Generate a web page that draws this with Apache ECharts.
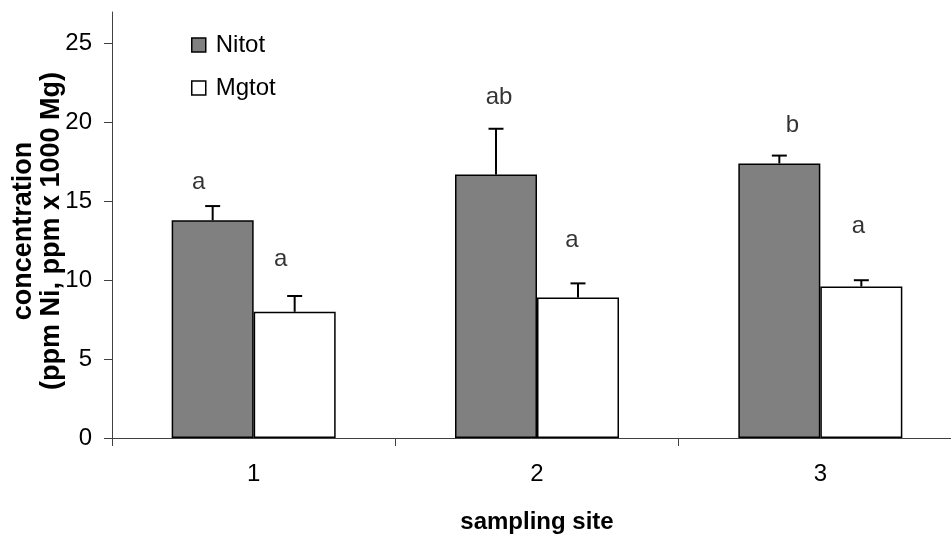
<!DOCTYPE html>
<html><head><meta charset="utf-8">
<script src="https://cdn.jsdelivr.net/npm/echarts@6/dist/echarts.min.js"></script>
<style>html,body{margin:0;padding:0;background:#fff}#c{width:951px;height:536px}</style>
</head><body><div id="c"></div>
<script>
// ---- data ----
const categories = ['1', '2', '3'];
const nitot = [13.8, 16.7, 17.4];
const nitotErr = [0.9, 2.9, 0.5];
const mgtot = [8.0, 8.9, 9.6];
const mgtotErr = [1.0, 0.9, 0.4];
const yTicks = [0, 5, 10, 15, 20, 25];
const nitotLetters = ['a', 'ab', 'b'];
const nitotLetterY = [16.2, 21.6, 19.8];   // letter heights in value units
const mgtotLetters = ['a', 'a', 'a'];
const mgtotLetterY = [11.3, 12.5, 13.4];

// ---- layout / style ----
const FONT = '"Liberation Sans", Arial, sans-serif';
const BAR_W = 82;
const nitotLetterDx = [-55, -38, -28];
const mgtotLetterDx = [27, 35, 38];

function errRender(dx) {
  return function (params, api) {
    const i = api.value(0), v = api.value(1), e = api.value(2);
    const p0 = api.coord([i, v]);
    const p1 = api.coord([i, v + e]);
    const x = p0[0] + dx, hw = 7.5;
    return {
      type: 'group',
      children: [
        { type: 'line', shape: { x1: x, y1: p0[1], x2: x, y2: p1[1] }, style: { stroke: '#000', lineWidth: 2 } },
        { type: 'line', shape: { x1: x - hw, y1: p1[1], x2: x + hw, y2: p1[1] }, style: { stroke: '#000', lineWidth: 2 } }
      ]
    };
  };
}

function letterData(letters, ys, dxs) {
  return letters.map((t, i) => ({
    value: [i, ys[i]],
    label: { formatter: t, offset: [dxs[i], 0] }
  }));
}

const chart = echarts.init(document.getElementById('c'), null, { renderer: 'canvas' });
chart.setOption({
  animation: false,
  backgroundColor: '#fff',
  textStyle: { fontFamily: FONT },
  grid: { left: 112, top: 12, bottom: 98, right: -11, outerBoundsMode: 'none', containLabel: false },
  legend: {
    orient: 'vertical', left: 191, top: 33, padding: 0,
    itemWidth: 14, itemHeight: 14, itemGap: 19,
    icon: 'rect',
    textStyle: { fontFamily: FONT, fontSize: 24, color: '#000', lineHeight: 24, padding: [0, 0, 0, 5] },
    data: [
      { name: 'Nitot', itemStyle: { color: '#808080', borderColor: '#000', borderWidth: 1.5 } },
      { name: 'Mgtot', itemStyle: { color: '#fff', borderColor: '#000', borderWidth: 1.5 } }
    ]
  },
  xAxis: {
    type: 'category', data: categories,
    axisLine: { lineStyle: { color: '#404040', width: 1 } },
    axisTick: { show: true, length: 8, lineStyle: { color: '#404040' } },
    axisLabel: { fontFamily: FONT, fontSize: 24, color: '#000', margin: 24 },
    name: 'sampling site', nameLocation: 'middle', nameGap: 72, nameMoveOverlap: false,
    nameTextStyle: { fontFamily: FONT, fontSize: 24, fontWeight: 'bold', color: '#000' }
  },
  yAxis: {
    type: 'value', min: 0, max: 27,
    axisLine: { show: true, lineStyle: { color: '#404040', width: 1 } },
    axisTick: { show: true, length: 8, customValues: yTicks, lineStyle: { color: '#404040' } },
    axisLabel: { fontFamily: FONT, fontSize: 24, color: '#000', margin: 20, customValues: yTicks },
    splitLine: { show: false },
    name: 'concentration\n(ppm Ni, ppm x 1000 Mg)', nameLocation: 'middle', nameGap: 46, nameRotate: 90,
    nameMoveOverlap: false,
    nameTextStyle: { fontFamily: FONT, fontSize: 27, fontWeight: 'bold', color: '#000', lineHeight: 28, align: 'center', padding: [0, 12, 0, 0] }
  },
  series: [
    {
      name: 'Nitot', type: 'bar', data: nitot, barWidth: BAR_W, barGap: '0%',
      itemStyle: { color: '#808080', borderColor: '#000', borderWidth: 1.5 }, z: 2
    },
    {
      name: 'Mgtot', type: 'bar', data: mgtot, barWidth: BAR_W, barGap: '0%',
      itemStyle: { color: '#fff', borderColor: '#000', borderWidth: 1.5 }, z: 2
    },
    {
      type: 'custom', name: 'NitotErr', renderItem: errRender(-BAR_W / 2),
      data: nitot.map((v, i) => [i, v, nitotErr[i]]), encode: { x: 0, y: 1 }, z: 3, silent: true
    },
    {
      type: 'custom', name: 'MgtotErr', renderItem: errRender(BAR_W / 2),
      data: mgtot.map((v, i) => [i, v, mgtotErr[i]]), encode: { x: 0, y: 1 }, z: 3, silent: true
    },
    {
      type: 'scatter', name: 'NitotLetters', symbolSize: 0, silent: true, z: 4,
      label: { show: true, position: 'inside', fontFamily: FONT, fontSize: 24, color: '#000' },
      data: letterData(nitotLetters, nitotLetterY, nitotLetterDx)
    },
    {
      type: 'scatter', name: 'MgtotLetters', symbolSize: 0, silent: true, z: 4,
      label: { show: true, position: 'inside', fontFamily: FONT, fontSize: 24, color: '#000' },
      data: letterData(mgtotLetters, mgtotLetterY, mgtotLetterDx)
    }
  ]
});
</script>
</body></html>
